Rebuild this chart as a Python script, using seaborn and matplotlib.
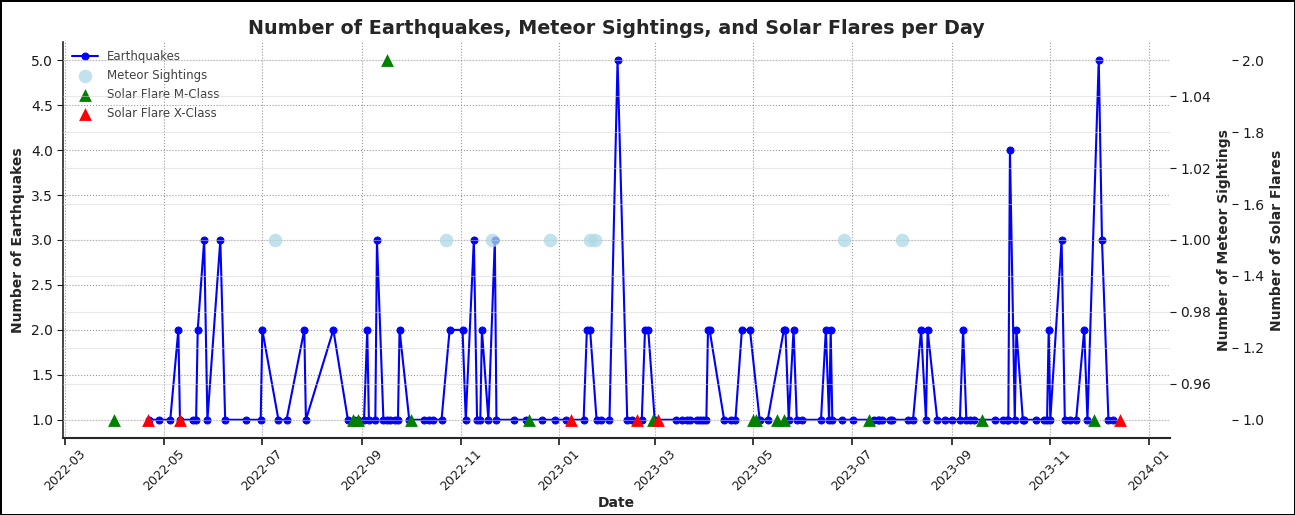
import pandas as pd
import seaborn as sns
import matplotlib.pyplot as plt
import matplotlib.dates as mdates

# --- data --------------------------------------------------------------------
quake_dates = [
    "2022-04-22", "2022-04-28", "2022-05-05", "2022-05-10", "2022-05-11", "2022-05-19",
    "2022-05-21", "2022-05-22", "2022-05-26", "2022-05-28", "2022-06-05", "2022-06-08",
    "2022-06-21", "2022-06-30", "2022-07-01", "2022-07-11", "2022-07-16", "2022-07-27",
    "2022-07-28", "2022-08-14", "2022-08-23", "2022-08-27", "2022-08-29", "2022-09-02",
    "2022-09-04", "2022-09-05", "2022-09-09", "2022-09-10", "2022-09-14", "2022-09-16",
    "2022-09-18", "2022-09-21", "2022-09-23", "2022-09-24", "2022-09-30", "2022-10-09",
    "2022-10-12", "2022-10-15", "2022-10-20", "2022-10-25", "2022-11-02", "2022-11-04",
    "2022-11-09", "2022-11-11", "2022-11-13", "2022-11-14", "2022-11-18", "2022-11-22",
    "2022-11-23", "2022-12-04", "2022-12-11", "2022-12-21", "2022-12-29", "2023-01-05",
    "2023-01-16", "2023-01-18", "2023-01-20", "2023-01-24", "2023-01-27", "2023-02-01",
    "2023-02-06", "2023-02-12", "2023-02-15", "2023-02-21", "2023-02-23", "2023-02-25",
    "2023-03-01", "2023-03-14", "2023-03-18", "2023-03-21", "2023-03-23", "2023-03-27",
    "2023-03-29", "2023-03-31", "2023-04-02", "2023-04-03", "2023-04-04", "2023-04-13",
    "2023-04-17", "2023-04-20", "2023-04-24", "2023-04-29", "2023-05-05", "2023-05-10",
    "2023-05-20", "2023-05-21", "2023-05-23", "2023-05-26", "2023-05-28", "2023-05-31",
    "2023-06-12", "2023-06-15", "2023-06-17", "2023-06-18", "2023-06-19", "2023-06-25",
    "2023-07-02", "2023-07-15", "2023-07-17", "2023-07-18", "2023-07-20", "2023-07-25",
    "2023-07-26", "2023-08-05", "2023-08-08", "2023-08-13", "2023-08-16", "2023-08-17",
    "2023-08-23", "2023-08-28", "2023-09-01", "2023-09-06", "2023-09-08", "2023-09-10",
    "2023-09-12", "2023-09-15", "2023-09-28", "2023-10-03", "2023-10-05", "2023-10-06",
    "2023-10-07", "2023-10-10", "2023-10-11", "2023-10-15", "2023-10-16", "2023-10-23",
    "2023-10-28", "2023-10-30", "2023-10-31", "2023-11-01", "2023-11-08", "2023-11-10",
    "2023-11-13", "2023-11-17", "2023-11-22", "2023-11-24", "2023-12-01", "2023-12-03",
    "2023-12-07", "2023-12-10",
]
quake_counts = [
    1, 1, 1, 2, 1, 1,
    1, 2, 3, 1, 3, 1,
    1, 1, 2, 1, 1, 2,
    1, 2, 1, 1, 1, 1,
    2, 1, 1, 3, 1, 1,
    1, 1, 1, 2, 1, 1,
    1, 1, 1, 2, 2, 1,
    3, 1, 1, 2, 1, 3,
    1, 1, 1, 1, 1, 1,
    1, 2, 2, 1, 1, 1,
    5, 1, 1, 1, 2, 2,
    1, 1, 1, 1, 1, 1,
    1, 1, 1, 2, 2, 1,
    1, 1, 2, 2, 1, 1,
    2, 2, 1, 2, 1, 1,
    1, 2, 1, 2, 1, 1,
    1, 1, 1, 1, 1, 1,
    1, 1, 1, 2, 1, 2,
    1, 1, 1, 1, 2, 1,
    1, 1, 1, 1, 1, 1,
    4, 1, 2, 1, 1, 1,
    1, 1, 2, 1, 3, 1,
    1, 1, 2, 1, 5, 3,
    1, 1,
]

meteor_dates = ["2022-07-09", "2022-10-23", "2022-11-20", "2022-12-26",
                "2023-01-20", "2023-01-23", "2023-06-26", "2023-08-01"]
meteor_counts = [1, 1, 1, 1, 1, 1, 1, 1]

m_class_dates = ["2022-03-31", "2022-08-26", "2022-08-29", "2022-09-16", "2022-10-01",
                 "2022-12-13", "2023-02-28", "2023-05-01", "2023-05-03", "2023-05-16",
                 "2023-05-20", "2023-07-12", "2023-09-20", "2023-11-28"]
m_class_counts = [1, 1, 1, 2, 1, 1, 1, 1, 1, 1, 1, 1, 1, 1]

x_class_dates = ["2022-04-21", "2022-05-11", "2023-01-08", "2023-02-18", "2023-03-03",
                 "2023-12-14"]
x_class_counts = [1, 1, 1, 1, 1, 1]

quakes = pd.DataFrame({"date": pd.to_datetime(quake_dates), "count": quake_counts})
meteors = pd.DataFrame({"date": pd.to_datetime(meteor_dates), "count": meteor_counts})
m_flares = pd.DataFrame({"date": pd.to_datetime(m_class_dates), "count": m_class_counts})
x_flares = pd.DataFrame({"date": pd.to_datetime(x_class_dates), "count": x_class_counts})

# --- figure ----------------------------------------------------------------
sns.set_style("ticks")
plt.rcParams["font.family"] = ["DejaVu Sans"]

fig, ax = plt.subplots(figsize=(12.95, 5.15), dpi=100)
fig.subplots_adjust(left=0.049, right=0.9035, bottom=0.15, top=0.918)
fig.patch.set_edgecolor("black")
fig.patch.set_linewidth(2)

ax2 = ax.twinx()
ax3 = ax.twinx()
ax3.spines["right"].set_position(("axes", 1.056))

sns.lineplot(data=quakes, x="date", y="count", ax=ax, color="blue", marker="o",
             markersize=5, markeredgecolor="blue", linewidth=1.5,
             errorbar=None, label="Earthquakes", legend=False)
sns.scatterplot(data=meteors, x="date", y="count", ax=ax2, color="lightblue",
                s=95, alpha=0.75, linewidth=0, label="Meteor Sightings", legend=False)
sns.scatterplot(data=m_flares, x="date", y="count", ax=ax3, color="green", marker="^",
                s=85, linewidth=0, label="Solar Flare M-Class", legend=False)
sns.scatterplot(data=x_flares, x="date", y="count", ax=ax3, color="red", marker="^",
                s=85, linewidth=0, label="Solar Flare X-Class", legend=False)

ax2.set_ylim(0.945, 1.055)
ax3.set_ylim(0.95, 2.05)

# grids
ax.grid(True, linestyle=":", color="gray", linewidth=0.8, alpha=0.8)
ax2.grid(True, axis="y", color="lightgray", linewidth=0.8, alpha=0.5)
ax3.grid(True, axis="y", color="lightgray", linewidth=0.8, alpha=0.5)

# spines
for side in ["top", "right"]:
    ax.spines[side].set_visible(False)
for a in (ax2, ax3):
    for side in ["top", "right", "left", "bottom"]:
        a.spines[side].set_visible(False)
ax.spines["left"].set_linewidth(1.2)
ax.spines["bottom"].set_linewidth(1.5)

for a in (ax, ax2, ax3):
    a.tick_params(axis="y", length=4, labelsize=10, colors="0.1")
ax.tick_params(axis="x", length=5, width=1.2, labelsize=9, colors="0.1", pad=2)

ax.xaxis.set_major_locator(mdates.MonthLocator(bymonth=[1, 3, 5, 7, 9, 11]))
ax.xaxis.set_major_formatter(mdates.DateFormatter("%Y-%m"))
plt.setp(ax.get_xticklabels(), rotation=45)

ax.set_title("Number of Earthquakes, Meteor Sightings, and Solar Flares per Day",
             fontsize=13.8, fontweight="bold", pad=6)
ax.set_xlabel("Date", fontweight="bold", labelpad=2)
ax.set_ylabel("Number of Earthquakes", fontweight="bold")
ax2.set_ylabel("Number of Meteor Sightings", fontweight="bold")
ax3.set_ylabel("Number of Solar Flares", fontweight="bold")

handles, labels = [], []
for a in (ax, ax2, ax3):
    h, l = a.get_legend_handles_labels()
    handles += h
    labels += l
ax.legend(handles, labels, loc="upper left", frameon=False, fontsize=8.5,
          labelcolor="0.25", borderaxespad=0.3, handlelength=2.2)

plt.savefig("out.png", dpi=100)
